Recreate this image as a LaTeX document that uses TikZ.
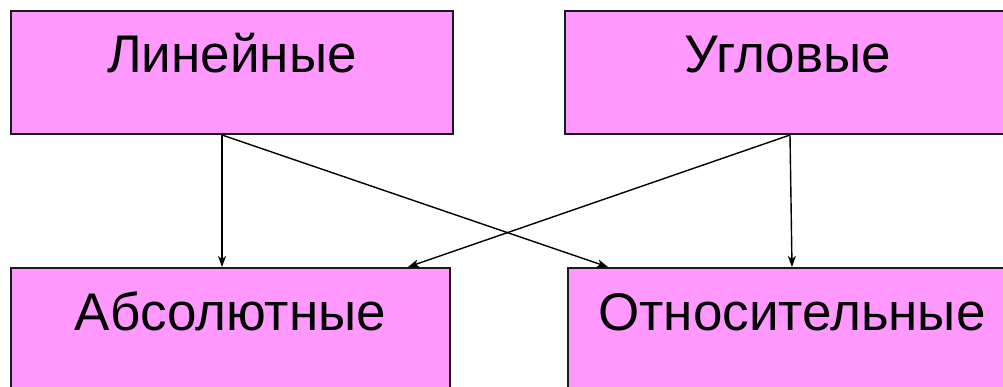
\documentclass[tikz,border=0pt]{standalone}
\usepackage{fontspec}
\setmainfont{Liberation Sans}
\usetikzlibrary{arrows.meta,calc}
\definecolor{boxpink}{HTML}{FF99FF}
\definecolor{edge}{HTML}{1A1A1A}
\tikzset{
  box/.style={draw=edge, line width=2pt, fill=boxpink, rectangle, inner sep=0pt,
    minimum height=123pt, text height=62pt, text depth=61pt,
    font=\fontsize{53}{60}\selectfont},
  link/.style={draw=black, line width=1.4pt, -{Stealth[length=11pt,width=8pt,inset=3pt]}}
}
\begin{document}
\begin{tikzpicture}[x=1pt,y=-1pt]
\useasboundingbox (0,0) rectangle (1003,387);
\node[box, minimum width=442pt] (tl) at (232,72.5) {Линейные};
\node[box, minimum width=446pt] (tr) at (788,72.5) {Угловые};
\node[box, minimum width=439pt] (bl) at (230.5,329.5) {Абсолютные};
\node[box, minimum width=448pt] (br) at (792,329.5) {Относительные};
\coordinate (tls) at ([xshift=-10pt]tl.south);
\coordinate (trs) at ([xshift=2pt]tr.south);
\draw[link] (tls) -- ([xshift=-8.5pt]bl.north);
\draw[link] (tls) -- ([xshift=-184pt]br.north);
\draw[link] (trs) -- ([xshift=177.5pt]bl.north);
\draw[link] (trs) -- (br.north);
\end{tikzpicture}
\end{document}
